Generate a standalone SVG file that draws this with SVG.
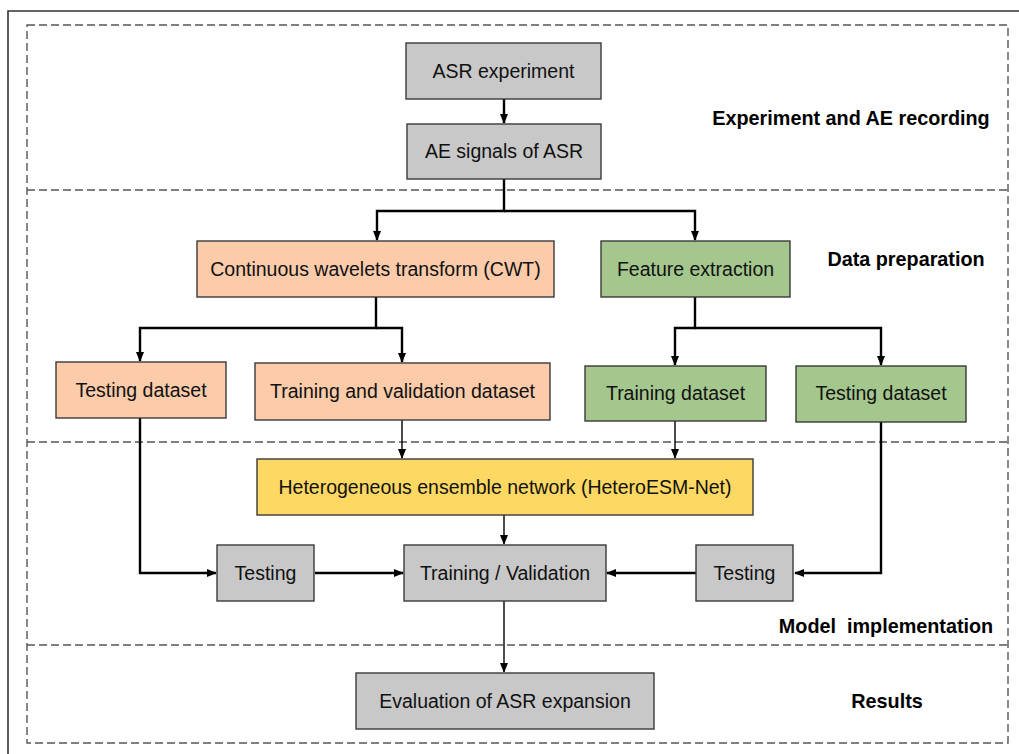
<svg xmlns="http://www.w3.org/2000/svg" width="1019" height="754" viewBox="0 0 1019 754">
  <defs>
    <marker id="arrow" markerWidth="10" markerHeight="10" refX="9" refY="5" orient="auto" markerUnits="userSpaceOnUse">
      <path d="M0,1 L10,5 L0,9 Z" fill="#000"/>
    </marker>
    <style>
      .box { stroke: #3a3a3a; stroke-width: 1.4; }
      .gray { fill: #c8c8c8; }
      .peach { fill: #fbcbaa; }
      .green { fill: #a4c78d; }
      .yellow { fill: #fdd862; }
      .label { font-family: "Liberation Sans", Arial, sans-serif; font-size: 19.5px; fill: #111; text-anchor: middle; }
      .stage { font-family: "Liberation Sans", Arial, sans-serif; font-size: 19.8px; font-weight: bold; fill: #000; text-anchor: middle; }
      .dash { fill: none; stroke: #555; stroke-width: 1.4; stroke-dasharray: 8 4; }
      .thick { fill: none; stroke: #000; stroke-width: 2.4; }
      .thin { fill: none; stroke: #000; stroke-width: 1.4; }
    </style>
  </defs>

  <rect width="1019" height="754" fill="#fff"/>

  <!-- outer frame -->
  <path d="M8,754 V11 H1019" fill="none" stroke="#333" stroke-width="1.6"/>

  <!-- stage frame and separators -->
  <g id="stages">
    <rect class="dash" x="27" y="25" width="981" height="718"/>
    <line class="dash" x1="27" y1="190" x2="1008" y2="190"/>
    <line class="dash" x1="27" y1="442" x2="1008" y2="442"/>
    <line class="dash" x1="27" y1="645" x2="1008" y2="645"/>
    <text class="stage" x="851" y="125">Experiment and AE recording</text>
    <text class="stage" x="906" y="266">Data preparation</text>
    <text class="stage" x="886" y="633" xml:space="preserve">Model  implementation</text>
    <text class="stage" x="887" y="708">Results</text>
  </g>

  <!-- connectors -->
  <g id="connectors">
    <path class="thick" d="M504,99 V123" marker-end="url(#arrow)"/>
    <path class="thick" d="M504,179 V211 H377 V240" marker-end="url(#arrow)"/>
    <path class="thick" d="M504,211 H695 V240" marker-end="url(#arrow)"/>
    <path class="thick" d="M376,297 V328 H140 V361" marker-end="url(#arrow)"/>
    <path class="thick" d="M376,328 H402 V362" marker-end="url(#arrow)"/>
    <path class="thick" d="M695,297 V328 H675 V365" marker-end="url(#arrow)"/>
    <path class="thick" d="M695,328 H881 V365" marker-end="url(#arrow)"/>
    <path class="thin" d="M402,420 V458" marker-end="url(#arrow)"/>
    <path class="thin" d="M675,421 V458" marker-end="url(#arrow)"/>
    <path class="thick" d="M140,418 V573 H216" marker-end="url(#arrow)"/>
    <path class="thick" d="M881,422 V573 H795" marker-end="url(#arrow)"/>
    <path class="thin" d="M504,515 V544" marker-end="url(#arrow)"/>
    <path class="thick" d="M315,573 H403" marker-end="url(#arrow)"/>
    <path class="thick" d="M696,573 H607" marker-end="url(#arrow)"/>
    <path class="thin" d="M504,600 V672" marker-end="url(#arrow)"/>
  </g>

  <!-- nodes -->
  <g id="asr-experiment">
    <rect class="box gray" x="406" y="43" width="195" height="56"/>
    <text class="label" x="503.5" y="78">ASR experiment</text>
  </g>
  <g id="ae-signals">
    <rect class="box gray" x="407" y="124" width="194" height="55"/>
    <text class="label" x="504" y="158">AE signals of ASR</text>
  </g>
  <g id="cwt">
    <rect class="box peach" x="197" y="241" width="357" height="56"/>
    <text class="label" x="375.5" y="276">Continuous wavelets transform (CWT)</text>
  </g>
  <g id="feature-extraction">
    <rect class="box green" x="601" y="241" width="189" height="56"/>
    <text class="label" x="695.5" y="276">Feature extraction</text>
  </g>
  <g id="cwt-testing-dataset">
    <rect class="box peach" x="56" y="362" width="170" height="56"/>
    <text class="label" x="141" y="397">Testing dataset</text>
  </g>
  <g id="cwt-training-validation-dataset">
    <rect class="box peach" x="255" y="363" width="295" height="57"/>
    <text class="label" x="402.5" y="398">Training and validation dataset</text>
  </g>
  <g id="feature-training-dataset">
    <rect class="box green" x="585" y="366" width="181" height="55"/>
    <text class="label" x="675.5" y="400">Training dataset</text>
  </g>
  <g id="feature-testing-dataset">
    <rect class="box green" x="796" y="366" width="170" height="56"/>
    <text class="label" x="881" y="400">Testing dataset</text>
  </g>
  <g id="hetero-esm-net">
    <rect class="box yellow" x="257" y="459" width="496" height="56"/>
    <text class="label" x="505" y="494">Heterogeneous ensemble network (HeteroESM-Net)</text>
  </g>
  <g id="testing-left">
    <rect class="box gray" x="217" y="545" width="97" height="56"/>
    <text class="label" x="265.5" y="580">Testing</text>
  </g>
  <g id="training-validation">
    <rect class="box gray" x="404" y="545" width="202" height="56"/>
    <text class="label" x="505" y="580">Training / Validation</text>
  </g>
  <g id="testing-right">
    <rect class="box gray" x="696" y="545" width="97" height="56"/>
    <text class="label" x="744.5" y="580">Testing</text>
  </g>
  <g id="evaluation">
    <rect class="box gray" x="356" y="673" width="298" height="56"/>
    <text class="label" x="505" y="708">Evaluation of ASR expansion</text>
  </g>
</svg>
